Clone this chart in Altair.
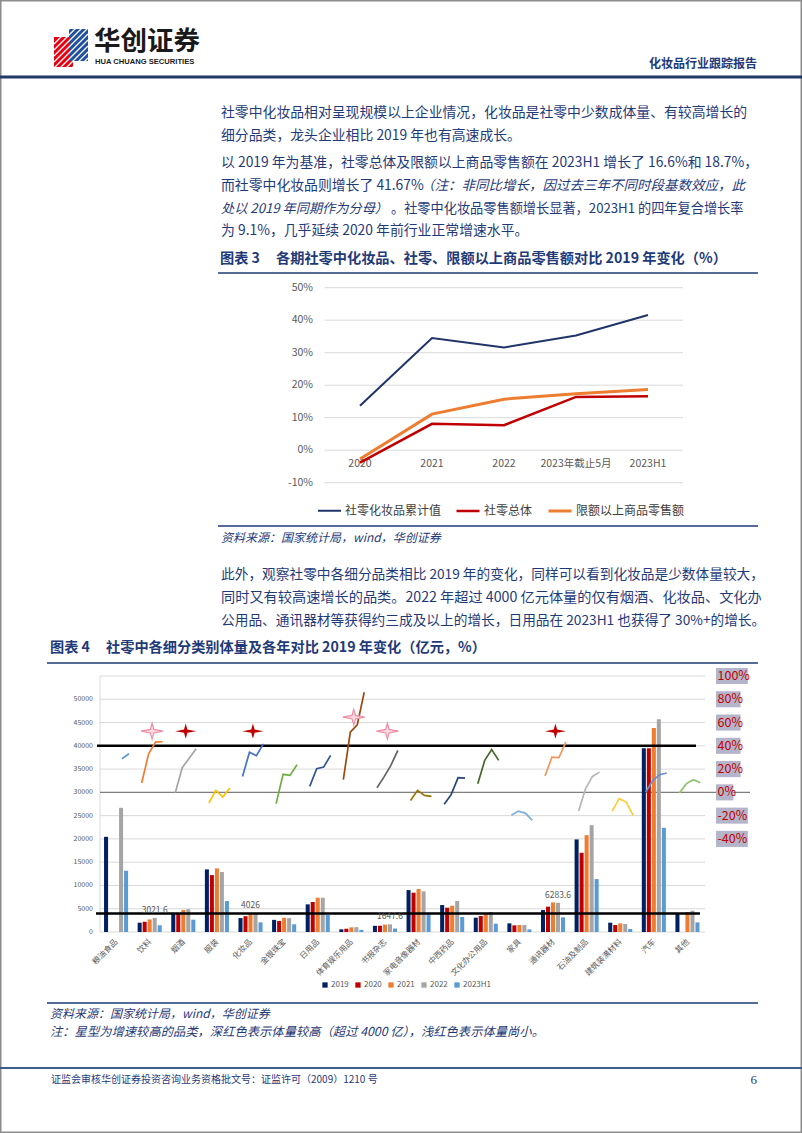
import altair as alt
import pandas as pd

CJK = "Noto Sans CJK SC"
BLUE = "#1F3A78"
GRAY_TXT = "#595959"

# ---------------- Figure 3 data ----------------
periods = ["2020", "2021", "2022", "2023年截止5月", "2023H1"]
cosmetics_cum = [13.7, 34.5, 31.6, 35.3, 41.6]
retail_total = [-3.8, 8.1, 7.7, 16.4, 16.6]
retail_above_quota = [-2.7, 11.1, 15.7, 17.4, 18.7]
series_names = ["社零化妆品累计值", "社零总体", "限额以上商品零售额"]
series_colors = ["#1F3468", "#C00000", "#ED7D31"]
series_widths = [2, 3, 3]
fig3_ticks = [-10, 0, 10, 20, 30, 40, 50]

# ---------------- Figure 4 data ----------------
categories = ["粮油食品", "饮料", "烟酒", "服装", "化妆品", "金银珠宝", "日用品",
              "体育娱乐用品", "书报杂志", "家电音像器材", "中西药品", "文化办公用品",
              "家具", "通讯器材", "石油及制品", "建筑装潢材料", "汽车", "其他"]
years = ["2019", "2020", "2021", "2022", "2023H1"]
year_colors = ["#002060", "#C00000", "#ED7D31", "#A5A5A5", "#5B9BD5"]
vol_2019 = [20450, 2000, 3950, 13450, 2992, 2606, 5940, 580, 1330, 9010, 5790, 3080, 1860, 4720, 19890, 2000, 39500, 4000]
vol_2020 = [None, 2200, 3950, 12230, 3400, 2376, 6440, 700, 1350, 8440, 5220, 3430, 1430, 5440, 17020, 1500, 39500, None]
vol_2021 = [None, 2700, 4750, 13660, 4026, 3041, 7370, 1000, 1590, 9230, 5650, 4000, 1500, 6350, 20810, 1860, 43840, 4290]
vol_2022 = [26680, 3021.6, 4900, 12880, 3936, 2977, 7370, 1050, 1647.6, 8730, 6650, 4290, 1500, 6283.6, 22960, 1720, 45700, 4580]
vol_2023h1 = [13150, 1450, 2650, 6650, 2071, 1656, 3650, 450, 750, 3790, 3220, 1790, 570, 3150, 11370, 640, 22380, 2070]
volumes = [vol_2019, vol_2020, vol_2021, vol_2022, vol_2023h1]

line_years = ["2020", "2021", "2022", "2023H1"]
chg_2020 = [None, 8.0, -0.3, -9.2, 13.6, -9.7, 5.2, 10.9, 4.0, -6.9, -10.3, 7.5, -19.7, 14.0, -16.1, -16.1, 0.3, -0.6]
chg_2021 = [None, 33.2, 21.2, 1.7, 34.5, 15.5, 20.3, 51.8, 13.1, 1.7, -2.0, 27.5, -16.1, 30.3, 3.2, -5.4, 10.3, 7.5]
chg_2022 = [28.9, 43.2, 29.4, -4.0, 31.5, 14.6, 21.7, 58.0, 23.2, -2.6, 12.6, 36.7, -17.8, 29.8, 13.7, -8.3, 15.2, 10.9]
chg_2023h1 = [33.2, 43.5, 37.5, 3.7, 41.7, 23.8, 31.8, 86.0, 36.1, -3.4, 12.3, 27.5, -24.0, 43.2, 17.4, -19.7, 16.6, 8.3]
changes = [chg_2020, chg_2021, chg_2022, chg_2023h1]
line_colors = ["#5B9BD5", "#ED7D31", "#A5A5A5", "#FFC000", "#4472C4", "#70AD47", "#2F5597",
               "#9E480E", "#636363", "#997300", "#264478", "#43682B", "#7CAFDD", "#F1975A",
               "#B7B7B7", "#FFCD33", "#698ED0", "#8CC168"]

star_cats = ["饮料", "烟酒", "化妆品", "体育娱乐用品", "书报杂志", "通讯器材"]
star_kind = ["small", "large", "large", "small", "small", "large"]
star_pct = [52.6, 52.6, 52.6, 64.6, 52.6, 52.6]

label_cats = ["饮料", "化妆品", "书报杂志", "通讯器材"]
label_years = ["2022", "2021", "2022", "2022"]

left_ticks = [0, 5000, 10000, 15000, 20000, 25000, 30000, 35000, 40000, 45000, 50000]
grid_ticks = [0, 5000, 10000, 15000, 20000, 25000, 30000, 35000, 40000, 45000, 50000, 55000]
right_ticks = [100, 80, 60, 40, 20, 0, -20, -40]
big_line = [40000]
small_line = [4000]

STAR = "M0,-0.72L0.16,-0.16L1,0L0.16,0.16L0,0.72L-0.16,0.16L-1,0L-0.16,-0.16Z"

ONE = pd.DataFrame({"d": [0]})


def txt(s, x, y, size=14, color=BLUE, weight="normal", style="normal", align="left", font=CJK):
    return alt.Chart(ONE).mark_text(
        text=s, align=align, baseline="middle", fontSize=size, color=color,
        fontWeight=weight, fontStyle=style, font=font
    ).encode(x=alt.value(x), y=alt.value(y))


def hrule(x1, x2, y, color, w):
    return alt.Chart(ONE).mark_rule(color=color, strokeWidth=w).encode(
        x=alt.value(x1), x2=alt.value(x2), y=alt.value(y))


layers = []

# page frame
layers.append(alt.Chart(ONE).mark_rect(fillOpacity=0, stroke="#8C8C8C", strokeWidth=1.5).encode(
    x=alt.value(0.75), x2=alt.value(801.25), y=alt.value(0.75), y2=alt.value(1132.25)))

# ---------------- header ----------------
layers.append(alt.Chart(ONE).mark_rect(color="#E60012").encode(
    x=alt.value(54), x2=alt.value(73), y=alt.value(37), y2=alt.value(67)))
layers.append(alt.Chart(ONE).mark_rect(color="#1E4FA0").encode(
    x=alt.value(69), x2=alt.value(88), y=alt.value(29), y2=alt.value(61)))
for y0 in [44, 50, 56, 62, 68, 74, 80, 86, 92, 98]:
    layers.append(alt.Chart(ONE).mark_rule(color="white", strokeWidth=1.3).encode(
        x=alt.value(54), x2=alt.value(88), y=alt.value(y0), y2=alt.value(y0 - 34)))
layers.append(txt("华创证券", 94, 42, size=26.5, color="#1A1A1A", weight="bold"))
layers.append(txt("HUA CHUANG SECURITIES", 95, 61.5, size=7.6, color="#1A1A1A", weight="bold", font="Liberation Sans"))
layers.append(txt("化妆品行业跟踪报告", 757, 64, size=12, color=BLUE, weight="bold", align="right"))
layers.append(hrule(0, 802, 77, "#1F3864", 3))

# ---------------- paragraphs ----------------
layers.append(txt("社零中化妆品相对呈现规模以上企业情况，化妆品是社零中少数成体量、有较高增长的", 221, 113, size=13.85))
layers.append(txt("细分品类，龙头企业相比 2019 年也有高速成长。", 221, 136, size=13.85))
layers.append(txt("以 2019 年为基准，社零总体及限额以上商品零售额在 2023H1 增长了 16.6%和 18.7%，", 221, 163, size=13.85))
layers.append(txt("而社零中化妆品则增长了 41.67%", 221, 186, size=13.85))
layers.append(txt("（注：非同比增长，因过去三年不同时段基数效应，此", 421, 186, size=13.5, style="italic"))
layers.append(txt("处以 2019 年同期作为分母）", 221, 209, size=13.2, style="italic"))
layers.append(txt("。社零中化妆品零售额增长显著，2023H1 的四年复合增长率", 391, 209, size=13.2))
layers.append(txt("为 9.1%，几乎延续 2020 年前行业正常增速水平。", 221, 231, size=13.85))

# ---------------- figure 3 ----------------
layers.append(txt("图表 3", 220, 259, size=14.2, weight="bold"))
layers.append(txt("各期社零中化妆品、社零、限额以上商品零售额对比 2019 年变化（%）", 276, 259, size=14.2, weight="bold"))
layers.append(hrule(218, 758, 273, BLUE, 1.5))

X3 = alt.Scale(type="point", domain=periods, range=[360, 648], padding=0)
Y3 = alt.Scale(domain=[-10, 50], range=[482.7, 287.7], nice=False, zero=False)

tick3_df = pd.DataFrame({"v": fig3_ticks})
layers.append(alt.Chart(tick3_df).mark_rule(color="#D9D9D9", strokeWidth=1).encode(
    y=alt.Y("v:Q", scale=Y3, axis=None), x=alt.value(324.5), x2=alt.value(683)))
layers.append(alt.Chart(tick3_df).transform_calculate(lab="datum.v + '%'").mark_text(
    align="right", baseline="middle", fontSize=10.5, color=GRAY_TXT, font=CJK).encode(
    y=alt.Y("v:Q", scale=Y3, axis=None), x=alt.value(313), text="lab:N"))

per_df = pd.DataFrame({"period": periods})
layers.append(alt.Chart(per_df).mark_text(
    align="center", baseline="middle", fontSize=10.5, color=GRAY_TXT, font=CJK).encode(
    x=alt.X("period:N", scale=X3, axis=None), y=alt.value(464), text="period:N"))

fig3_rows = []
for s, vals in zip(series_names, [cosmetics_cum, retail_total, retail_above_quota]):
    for j, (p, v) in enumerate(zip(periods, vals)):
        fig3_rows.append({"period": p, "k": j, "series": s, "val": v})
fig3_df = pd.DataFrame(fig3_rows)
layers.append(alt.Chart(fig3_df).mark_line().encode(
    x=alt.X("period:N", scale=X3, axis=None),
    y=alt.Y("val:Q", scale=Y3, axis=None),
    order=alt.Order("k:Q"),
    color=alt.Color("series:N", scale=alt.Scale(domain=series_names, range=series_colors),
                    legend=alt.Legend(title=None, orient="none", legendX=317, legendY=498,
                                      direction="horizontal", symbolType="stroke", symbolSize=529,
                                      symbolStrokeWidth=3, labelFontSize=12, labelFont=CJK,
                                      labelColor="#404040", labelOffset=3, columnPadding=9,
                                      padding=0)),
    strokeWidth=alt.StrokeWidth("series:N", scale=alt.Scale(domain=series_names, range=series_widths),
                                legend=None)))

layers.append(hrule(218, 758, 526, BLUE, 1.5))
layers.append(txt("资料来源：国家统计局，wind，华创证券", 221, 538, size=12, style="italic"))

# ---------------- paragraph 3 ----------------
layers.append(txt("此外，观察社零中各细分品类相比 2019 年的变化，同样可以看到化妆品是少数体量较大，", 221, 575, size=13.7))
layers.append(txt("同时又有较高速增长的品类。2022 年超过 4000 亿元体量的仅有烟酒、化妆品、文化办", 221, 598, size=14.2))
layers.append(txt("公用品、通讯器材等获得约三成及以上的增长，日用品在 2023H1 也获得了 30%+的增长。", 221, 621, size=13.7))

# ---------------- figure 4 ----------------
layers.append(txt("图表 4", 50, 648, size=14.2, weight="bold"))
layers.append(txt("社零中各细分类别体量及各年对比 2019 年变化（亿元，%）", 106, 648, size=14.2, weight="bold"))
layers.append(hrule(47, 758, 663, BLUE, 1.5))

X4 = alt.Scale(domain=[0, 18], range=[100, 705], nice=False, zero=False)
YL = alt.Scale(domain=[0, 55000], range=[932, 676], nice=False, zero=False)
YR = alt.Scale(domain=[-120, 100], range=[932, 676], nice=False, zero=False)

grid_df = pd.DataFrame({"v": grid_ticks})
layers.append(alt.Chart(grid_df).mark_rule(color="#D9D9D9", strokeWidth=1).encode(
    y=alt.Y("v:Q", scale=YL, axis=None), x=alt.value(100), x2=alt.value(705)))
layers.append(alt.Chart(ONE).mark_rule(color="#D9D9D9", strokeWidth=1).encode(
    x=alt.value(100), y=alt.value(676), y2=alt.value(932)))
layers.append(alt.Chart(pd.DataFrame({"v": [0]})).mark_rule(color="#7F7F7F", strokeWidth=1.2).encode(
    y=alt.Y("v:Q", scale=YR, axis=None), x=alt.value(100), x2=alt.value(750)))

bar_rows = []
for i, c in enumerate(categories):
    for k, (yr, arr) in enumerate(zip(years, volumes)):
        if arr[i] is not None:
            bar_rows.append({"cat": c, "i": i, "k": k, "year": yr, "val": arr[i]})
bar_df = pd.DataFrame(bar_rows)
layers.append(alt.Chart(bar_df).transform_calculate(
    bx0="datum.i + 0.12 + datum.k * 0.149", bx1="datum.i + 0.24 + datum.k * 0.149"
).mark_rect().encode(
    x=alt.X("bx0:Q", scale=X4, axis=None), x2="bx1:Q",
    y=alt.Y("val:Q", scale=YL, axis=None), y2=alt.datum(0),
    color=alt.Color("year:N", scale=alt.Scale(domain=years, range=year_colors),
                    legend=alt.Legend(title=None, orient="none", legendX=321, legendY=981,
                                      direction="horizontal", symbolType="square", symbolSize=28,
                                      symbolStrokeWidth=0, labelFontSize=8, labelFont=CJK,
                                      labelColor=GRAY_TXT, labelOffset=2, columnPadding=5,
                                      padding=0))))

layers.append(alt.Chart(pd.DataFrame({"v": big_line})).mark_rule(color="black", strokeWidth=2.5).encode(
    y=alt.Y("v:Q", scale=YL, axis=None), x=alt.value(97), x2=alt.value(696)))
layers.append(alt.Chart(pd.DataFrame({"v": small_line})).mark_rule(color="black", strokeWidth=2.5).encode(
    y=alt.Y("v:Q", scale=YL, axis=None), x=alt.value(96), x2=alt.value(700)))

line_rows = []
for i, c in enumerate(categories):
    for k, (yr, arr) in enumerate(zip(line_years, changes)):
        if arr[i] is not None:
            line_rows.append({"cat": c, "i": i, "k": k, "pct": arr[i]})
line_df = pd.DataFrame(line_rows)
layers.append(alt.Chart(line_df).transform_calculate(
    lx="datum.i + 0.24 + datum.k * 0.207"
).mark_line(strokeWidth=1.7).encode(
    x=alt.X("lx:Q", scale=X4, axis=None),
    y=alt.Y("pct:Q", scale=YR, axis=None),
    order=alt.Order("k:Q"),
    color=alt.Color("cat:N", scale=alt.Scale(domain=categories, range=line_colors), legend=None)))

star_df = pd.DataFrame({"cat": star_cats, "kind": star_kind, "pct": star_pct,
                        "i": [categories.index(c) for c in star_cats]})
layers.append(alt.Chart(star_df).transform_filter("datum.kind == 'large'").transform_calculate(
    sx="datum.i + 0.55").mark_point(shape=STAR, size=441, filled=True, color="#C00000", opacity=1,
                                    strokeWidth=0).encode(
    x=alt.X("sx:Q", scale=X4, axis=None), y=alt.Y("pct:Q", scale=YR, axis=None)))
layers.append(alt.Chart(star_df).transform_filter("datum.kind == 'small'").transform_calculate(
    sx="datum.i + 0.55").mark_point(shape=STAR, size=480, filled=True, fill="#FBD9E1", stroke="#EE8FA6",
                                    strokeWidth=1.2, opacity=1).encode(
    x=alt.X("sx:Q", scale=X4, axis=None), y=alt.Y("pct:Q", scale=YR, axis=None)))

lab_rows = []
for c, yr in zip(label_cats, label_years):
    i = categories.index(c)
    k = years.index(yr)
    v = volumes[k][i]
    lab_rows.append({"i": i, "k": k, "val": v, "lab": f"{v:g}"})
lab_df = pd.DataFrame(lab_rows)
layers.append(alt.Chart(lab_df).transform_calculate(
    tx="datum.i + 0.18 + datum.k * 0.149").mark_text(
    dy=-8, fontSize=8.5, color=GRAY_TXT, baseline="middle", align="center", font=CJK).encode(
    x=alt.X("tx:Q", scale=X4, axis=None), y=alt.Y("val:Q", scale=YL, axis=None), text="lab:N"))

# left tick labels
layers.append(alt.Chart(pd.DataFrame({"v": left_ticks})).mark_text(
    align="right", baseline="middle", fontSize=7, color=GRAY_TXT, font=CJK).encode(
    y=alt.Y("v:Q", scale=YL, axis=None), x=alt.value(93), text=alt.Text("v:Q", format="d")))

# right percentage labels with boxes
rl_df = pd.DataFrame({"v": right_ticks})
layers.append(alt.Chart(rl_df).transform_calculate(
    bx0="0", bx1="length(datum.v + '%') * 7.2 + 3", yt="datum.v + 6.9", yb="datum.v - 6.9"
).mark_rect(color="#B4B4CA").encode(
    x=alt.X("bx0:Q", scale=alt.Scale(domain=[0, 100], range=[716, 816], nice=False, zero=False), axis=None),
    x2="bx1:Q",
    y=alt.Y("yt:Q", scale=YR, axis=None), y2="yb:Q"))
layers.append(alt.Chart(rl_df).transform_calculate(lab="datum.v + '%'").mark_text(
    align="left", baseline="middle", fontSize=12.5, color="#C00000", font=CJK).encode(
    y=alt.Y("v:Q", scale=YR, axis=None), x=alt.value(717.5), text="lab:N"))

# category labels
cat_df = pd.DataFrame({"cat": categories, "i": list(range(len(categories)))})
layers.append(alt.Chart(cat_df).transform_calculate(cx="datum.i + 0.5").mark_text(
    angle=315, align="right", baseline="middle", fontSize=8, color=GRAY_TXT, font=CJK).encode(
    x=alt.X("cx:Q", scale=X4, axis=None), y=alt.value(941), text="cat:N"))

layers.append(hrule(47, 758, 1003, BLUE, 1.5))
layers.append(txt("资料来源：国家统计局，wind，华创证券", 50, 1014, size=12, style="italic"))
layers.append(txt("注：星型为增速较高的品类，深红色表示体量较高（超过 4000 亿），浅红色表示体量尚小。", 50, 1032, size=12.3, style="italic"))

# ---------------- footer ----------------
layers.append(hrule(0, 802, 1068, "#3E5F8A", 2))
layers.append(txt("证监会审核华创证券投资咨询业务资格批文号：证监许可（2009）1210 号", 51, 1080, size=10))
layers.append(txt("6", 757, 1080, size=13, align="right", font="Liberation Serif"))

chart = alt.layer(*layers).resolve_scale(
    x="independent", y="independent", color="independent", strokeWidth="independent"
).properties(
    width=802, height=1133, padding=0, autosize=alt.AutoSizeParams(type="none"), background="white"
).configure_view(stroke=None)

chart.save("out.html", embed_options={"renderer": "svg", "actions": False})
